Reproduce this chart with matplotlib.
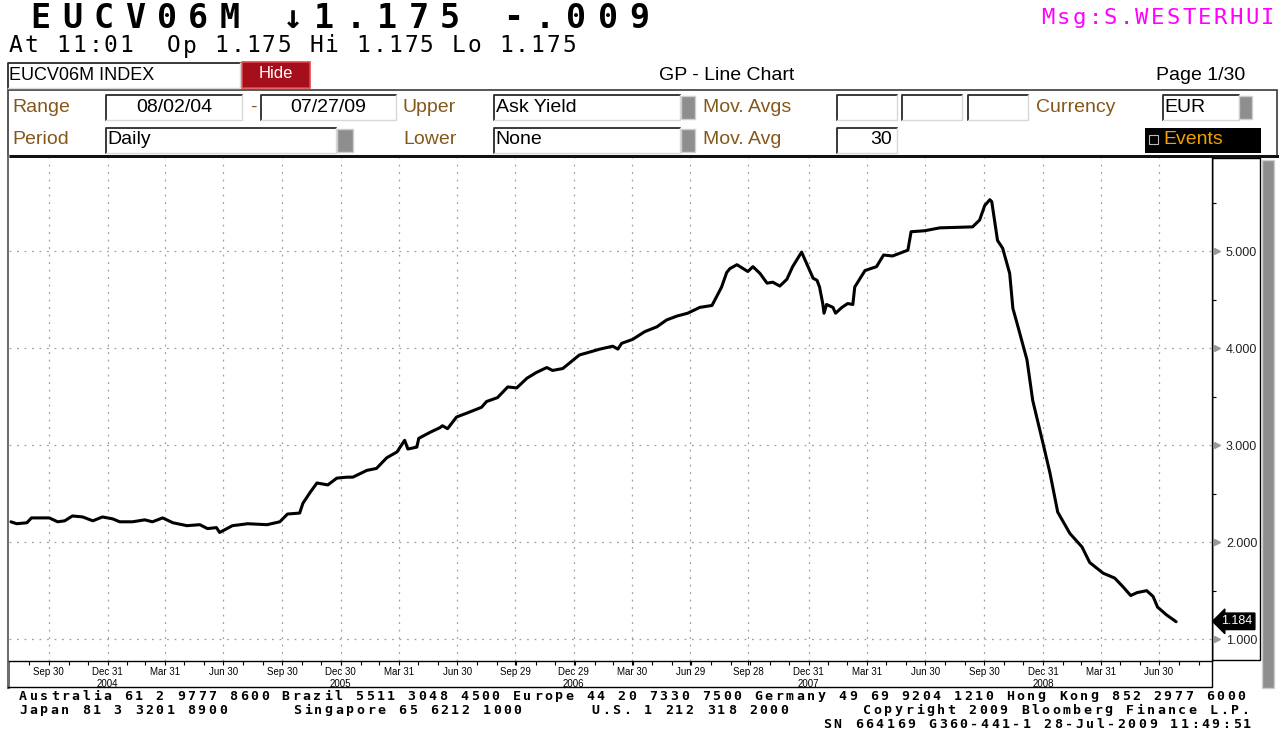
import matplotlib
matplotlib.use("Agg")
import matplotlib.pyplot as plt
import matplotlib.transforms as mtransforms
from matplotlib.patches import Rectangle
import pandas as pd

W, H = 1285, 734
fig = plt.figure(figsize=(W / 100, H / 100), dpi=100)
fig.patch.set_facecolor('white')

BROWN = '#86571b'
GRID = '#a0a0a0'
NARROW = ['Liberation Sans Narrow', 'Liberation Sans', 'DejaVu Sans']

# ---- data: EUCV06M ask yield ----
dates = [
    '2004-08-02', '2004-08-11', '2004-08-27', '2004-09-03', '2004-10-01', '2004-10-14',
    '2004-10-25', '2004-11-06', '2004-11-22', '2004-12-08', '2004-12-23', '2005-01-08',
    '2005-01-19', '2005-02-08', '2005-02-27', '2005-03-11', '2005-03-27', '2005-04-12',
    '2005-05-04', '2005-05-24', '2005-06-05', '2005-06-19', '2005-06-24', '2005-07-14',
    '2005-08-07', '2005-09-06', '2005-09-26', '2005-10-08', '2005-10-27', '2005-11-01',
    '2005-11-12', '2005-11-23', '2005-12-10', '2005-12-24', '2006-01-09', '2006-01-18',
    '2006-02-09', '2006-02-24', '2006-03-12', '2006-03-28', '2006-04-09', '2006-04-14',
    '2006-04-28', '2006-05-01', '2006-05-18', '2006-06-03', '2006-06-07', '2006-06-15',
    '2006-06-29', '2006-07-15', '2006-08-07', '2006-08-15', '2006-09-01', '2006-09-17',
    '2006-10-01', '2006-10-17', '2006-11-01', '2006-11-17', '2006-11-26', '2006-12-12',
    '2007-01-07', '2007-01-18', '2007-02-08', '2007-02-28', '2007-03-08', '2007-03-14',
    '2007-03-31', '2007-04-19', '2007-05-08', '2007-05-23', '2007-06-08', '2007-06-25',
    '2007-07-14', '2007-08-02', '2007-08-06', '2007-08-17', '2007-08-25', '2007-08-30',
    '2007-09-10', '2007-09-27', '2007-10-05', '2007-10-16', '2007-10-27', '2007-11-05',
    '2007-11-16', '2007-11-27', '2007-12-06', '2007-12-20', '2007-12-28', '2008-01-07',
    '2008-01-13', '2008-01-17', '2008-01-22', '2008-01-24', '2008-01-28', '2008-02-07',
    '2008-02-11', '2008-02-21', '2008-03-01', '2008-03-09', '2008-03-12', '2008-03-28',
    '2008-04-15', '2008-04-26', '2008-05-10', '2008-06-03', '2008-06-08', '2008-06-29',
    '2008-07-23', '2008-09-12', '2008-09-23', '2008-10-01', '2008-10-09', '2008-10-12',
    '2008-10-21', '2008-10-29', '2008-11-09', '2008-11-14', '2008-11-22', '2008-12-06',
    '2008-12-15', '2008-12-31', '2009-01-11', '2009-01-23', '2009-02-11', '2009-03-02',
    '2009-03-14', '2009-04-04', '2009-04-22', '2009-05-05', '2009-05-17', '2009-05-27',
    '2009-06-11', '2009-06-21', '2009-06-28', '2009-07-12', '2009-07-27',
]
yields = [
    2.21, 2.19, 2.20, 2.25, 2.25, 2.21,
    2.22, 2.27, 2.26, 2.22, 2.26, 2.24,
    2.21, 2.21, 2.23, 2.21, 2.25, 2.20,
    2.17, 2.18, 2.14, 2.15, 2.10, 2.17,
    2.19, 2.18, 2.21, 2.29, 2.30, 2.40,
    2.51, 2.61, 2.59, 2.66, 2.67, 2.67,
    2.74, 2.76, 2.87, 2.93, 3.05, 2.96,
    2.98, 3.07, 3.13, 3.18, 3.20, 3.17,
    3.29, 3.33, 3.39, 3.45, 3.49, 3.60,
    3.59, 3.69, 3.75, 3.80, 3.77, 3.79,
    3.93, 3.95, 3.99, 4.02, 3.99, 4.05,
    4.09, 4.17, 4.22, 4.29, 4.33, 4.36,
    4.42, 4.44, 4.49, 4.63, 4.78, 4.82,
    4.86, 4.79, 4.84, 4.77, 4.67, 4.68,
    4.64, 4.71, 4.84, 4.99, 4.87, 4.72,
    4.70, 4.63, 4.46, 4.36, 4.45, 4.42,
    4.36, 4.42, 4.46, 4.45, 4.63, 4.80,
    4.84, 4.96, 4.95, 5.01, 5.20, 5.21,
    5.24, 5.25, 5.32, 5.47, 5.53, 5.51,
    5.11, 5.03, 4.77, 4.41, 4.22, 3.88,
    3.46, 3.02, 2.71, 2.31, 2.09, 1.95,
    1.79, 1.68, 1.63, 1.54, 1.45, 1.48,
    1.50, 1.44, 1.33, 1.25, 1.18,
]
last_label = 1.184

# quarter-end ticks as Bloomberg labels them
qtr_ticks = [
    '2004-09-30', '2004-12-31', '2005-03-31', '2005-06-30', '2005-09-30', '2005-12-30',
    '2006-03-31', '2006-06-30', '2006-09-29', '2006-12-29', '2007-03-30', '2007-06-29',
    '2007-09-28', '2007-12-31', '2008-03-31', '2008-06-30', '2008-09-30', '2008-12-31',
    '2009-03-31', '2009-06-30',
]
y_ticks = [1, 2, 3, 4, 5]
y_minor = [1.5, 2.5, 3.5, 4.5, 5.5]

# ---- background "terminal" layer in pixel coords ----
bg = fig.add_axes([0, 0, 1, 1])
bg.set_xlim(0, W)
bg.set_ylim(H, 0)
bg.axis('off')


def mono(x0, y, s, pitch, size, color='black', weight='normal'):
    # fixed-pitch terminal text, one glyph per cell
    for i, ch in enumerate(s):
        if ch != ' ':
            bg.text(x0 + (i + 0.5) * pitch, y, ch, fontsize=size, color=color,
                    fontweight=weight, family=['DejaVu Sans Mono'],
                    ha='center', va='center')


def rect(x0, y0, x1, y1, fc='white', ec='none', lw=1, z=1):
    bg.add_patch(Rectangle((x0, y0), x1 - x0, y1 - y0, facecolor=fc,
                           edgecolor=ec, linewidth=lw, zorder=z))


def inbox(x0, y0, x1, y1):
    rect(x0, y0, x1, y1, fc='white', z=2)
    bg.plot([x0, x0, x1], [y1, y0, y0], color='#2a2a2a', lw=1.3, zorder=3)
    bg.plot([x0, x1, x1], [y1, y1, y0], color='#d8d8d8', lw=1, zorder=3)


def graybar(x0, y0, x1, y1):
    rect(x0, y0, x1, y1, fc='#8e8e8e', ec='#cfcfcf', lw=1, z=3)


def label(x, y, s, c=BROWN, ha='left', size=14):
    bg.text(x, y, s, fontsize=size, color=c, family=NARROW, ha=ha,
            va='center', zorder=4)


# header lines
mono(25, 18, 'EUCV06M \u21931.175 -.009', 31.5, 24, weight='bold')
mono(8, 46, 'At 11:01  Op 1.175 Hi 1.175 Lo 1.175', 15.8, 16.5)
mono(1040, 18, 'Msg:S.WESTERHUI', 15.7, 16, color='#ff00ff')

# security box, hide button, title
inbox(8, 63, 240, 88)
label(9, 75, 'EUCV06M INDEX', c='black', size=13)
rect(242, 62, 310, 88, fc='#a50f1b', ec='#e04848', lw=1.2, z=2)
bg.text(276, 74, 'Hide', fontsize=12, color='white', family=NARROW,
        ha='center', va='center', zorder=4)
label(727, 75, 'GP - Line Chart', c='black', ha='center')
label(1245, 75, 'Page 1/30', c='black', ha='right')

# settings panel
rect(8, 90, 1277, 156, fc='white', ec='#3a3a3a', lw=1.2, z=1)
bg.plot([8, 1277], [156, 156], color='#111111', lw=2.2, zorder=3)

r1, r2 = 107, 140
label(12, r1, 'Range')
inbox(106, 95, 242, 120)
label(174, r1, '08/02/04', c='black', ha='center')
label(250, r1, '-')
inbox(261, 95, 396, 120)
label(328, r1, '07/27/09', c='black', ha='center')
label(403, r1, 'Upper')
inbox(494, 95, 680, 120)
label(496, r1, 'Ask Yield', c='black')
graybar(681, 96, 695, 119)
label(703, r1, 'Mov. Avgs')
inbox(837, 95, 897, 120)
inbox(902, 95, 962, 120)
inbox(968, 95, 1028, 120)
label(1036, r1, 'Currency')
inbox(1163, 95, 1239, 120)
label(1164, r1, 'EUR', c='black')
graybar(1239, 96, 1252, 119)

label(12, r2, 'Period')
inbox(106, 128, 336, 153)
label(107, r2, 'Daily', c='black')
graybar(337, 129, 353, 152)
label(403, r2, 'Lower')
inbox(494, 128, 680, 153)
label(495, r2, 'None', c='black')
graybar(681, 129, 695, 152)
label(703, r2, 'Mov. Avg')
inbox(837, 128, 897, 153)
label(881, r2, '30', c='black', ha='center')
rect(1145, 128, 1261, 153, fc='black', z=2)
rect(1149, 135, 1158, 144, fc='black', ec='#bbbbbb', lw=0.8, z=3)
label(1163, r2, 'Events', c='#f0a000')

# chart frame, right label box, scrollbar
bg.plot([8, 8], [156, 687], color='#6e6e6e', lw=2.2, zorder=3)
bg.plot([8, 1212, 1212], [687, 687, 158], color='black', lw=1, zorder=3)
rect(1212, 158, 1260, 660, fc='white', ec='black', lw=1, z=1)
rect(1262, 160, 1274, 688, fc='#8e8e8e', ec='#cfcfcf', lw=1, z=2)

# footer
FP = 10.5
FS = 9.5
mono(18, 696, 'Australia 61 2 9777 8600 Brazil 5511 3048 4500 Europe 44 20 '
     '7330 7500 Germany 49 69 9204 1210 Hong Kong 852 2977 6000', FP, FS, weight='bold')
mono(18, 710, 'Japan 81 3 3201 8900', FP, FS, weight='bold')
mono(292, 710, 'Singapore 65 6212 1000', FP, FS, weight='bold')
mono(590, 710, 'U.S. 1 212 318 2000', FP, FS, weight='bold')
mono(862, 710, 'Copyright 2009 Bloomberg Finance L.P.', FP, FS, weight='bold')
mono(822, 724, 'SN 664169 G360-441-1 28-Jul-2009 11:49:51', FP, FS, weight='bold')

# ---- the chart itself ----
ax = fig.add_axes([9 / W, 1 - 661 / H, (1212 - 9) / W, (661 - 158) / H])
ax.set_facecolor('white')
x = pd.to_datetime(dates)
ax.plot(x, yields, color='black', lw=2.2, solid_joinstyle='round',
        solid_capstyle='round', zorder=3)

ax.set_xlim(pd.Timestamp('2004-07-30'), pd.Timestamp('2009-09-21'))
ax.set_ylim(0.775, 5.96)

qt = pd.to_datetime(qtr_ticks)
ax.set_xticks(qt)
ax.set_xticklabels([d.strftime('%b %d') + ('\n' + str(d.year) if d.month == 12 else '')
                    for d in qt], fontsize=7, family=NARROW, linespacing=1.3)
ax.set_xticks(pd.date_range('2004-08-31', '2009-08-31', freq='ME'), minor=True)
ax.tick_params(axis='x', which='both', direction='out', length=3, width=0.8,
               pad=1, color='black')

ax.yaxis.tick_right()
ax.set_yticks(y_ticks)
ax.set_yticklabels([f'{v:.3f}' for v in y_ticks], fontsize=9, family=NARROW,
                   color='#222222')
ax.set_yticks(y_minor, minor=True)
ax.tick_params(axis='y', which='major', length=0, pad=10)
ax.tick_params(axis='y', which='minor', direction='out', length=3, width=0.8)

ax.grid(True, which='major', color=GRID, lw=0.9, ls=(0, (1.5, 4.5)))
ax.spines['top'].set_visible(False)
ax.spines['left'].set_visible(False)
ax.spines['right'].set_linewidth(1)
ax.spines['bottom'].set_linewidth(1)

# gray pointers on the value axis
tr = mtransforms.blended_transform_factory(ax.transAxes, ax.transData)
ax.plot([1 + 5 / 1203] * len(y_ticks), y_ticks, ls='none', marker='>',
        ms=5, color='#9a9a9a', transform=tr, clip_on=False, zorder=4)

# last value tag
ax.text(1 + 25 / 1203, last_label, f'{last_label:.3f}', transform=tr,
        fontsize=9, color='white', family=NARROW, ha='center', va='center',
        bbox=dict(boxstyle='larrow,pad=0.18', fc='black', ec='black'),
        clip_on=False, zorder=5)

fig.savefig('out.png', dpi=100, facecolor='white')
